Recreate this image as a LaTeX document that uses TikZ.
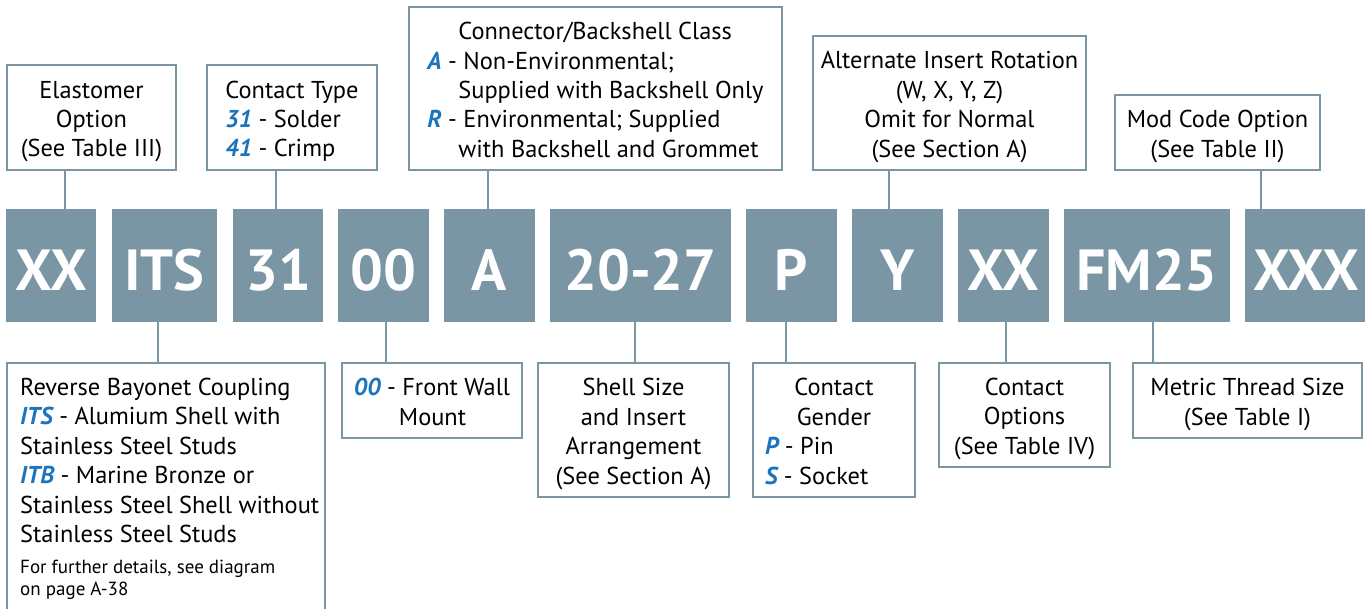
\documentclass[tikz,border=0pt]{standalone}
\usepackage{fontspec}
\setmainfont{PT Sans}
\definecolor{steel}{HTML}{7A95A3}
\definecolor{codeblue}{HTML}{1C75BC}
\newcommand{\bl}[1]{{\color{codeblue}\bfseries\itshape #1}}
\newcommand{\bodyfont}{\fontsize{24.4}{29.4}\selectfont}
\newcommand{\smallfnt}{\fontsize{19}{22}\selectfont}
\newcommand{\codefont}{\fontsize{58}{60}\selectfont\bfseries}
\newcommand{\sa}{\rule{0pt}{26pt}}
\newcommand{\sz}{\rule[-6.2pt]{0pt}{6.2pt}}
\begin{document}
\begin{tikzpicture}[x=1pt,y=-1pt,
  tbox/.style={draw=steel, line width=2.7pt, fill=white, inner sep=0pt, font=\bodyfont, align=center},
  code/.style={fill=steel, draw=none, inner sep=0pt, minimum height=113pt, text height=49pt, text depth=0pt, font=\codefont, text=white},
  conn/.style={draw=steel, line width=2.7pt},
  txt/.style={inner sep=0pt, anchor=north west, align=left}]
\useasboundingbox (0,0) rectangle (1365,608);
\clip (0,0) rectangle (1365,608);
% code boxes
\node[code, minimum width=90pt]  (xx1)  at (51,265.5)    {XX};
\node[code, minimum width=105pt] (its)  at (164.5,265.5) {ITS};
\node[code, minimum width=90pt]  (c31)  at (278,265.5)   {31};
\node[code, minimum width=91pt]  (c00)  at (383.5,265.5) {00};
\node[code, minimum width=91pt]  (ca)   at (489.5,265.5) {A};
\node[code, minimum width=181pt] (size) at (640.5,265.5) {20-27};
\node[code, minimum width=91pt]  (cp)   at (791.5,265.5) {P};
\node[code, minimum width=91pt]  (cy)   at (897.5,265.5) {Y};
\node[code, minimum width=91pt]  (xx2)  at (1003.5,265.5){XX};
\node[code, minimum width=166pt] (fm)   at (1147,265.5)  {FM25};
\node[code, minimum width=122pt] (xxx)  at (1306,265.5)  {XXX};
% top boxes
\node[tbox, minimum width=169pt, minimum height=105pt] (elast) at (91.5,117.5)
  {\sa Elastomer\\Option\\(See Table III)\sz};
\node[tbox, align=left, minimum width=170pt, minimum height=105pt] (ctype) at (292,117.5)
  {\sa Contact Type\\\bl{31} - Solder\\\bl{41} - Crimp\sz};
\node[tbox, align=left, minimum width=373pt, minimum height=163pt] (class) at (595.5,88.5)
  {\sa\hspace*{31pt}Connector/Backshell Class\\\bl{A} - Non-Environmental;\\\hspace*{31pt}Supplied with Backshell Only\\\bl{R} - Environmental; Supplied\\\hspace*{31pt}with Backshell and Grommet\sz};
\node[tbox, minimum width=273pt, minimum height=134pt] (rot) at (949.5,103)
  {\sa Alternate Insert Rotation\\(W, X, Y, Z)\\Omit for Normal\\(See Section A)\sz};
\node[tbox, minimum width=205pt, minimum height=75pt] (mod) at (1217.5,132.5)
  {\sa Mod Code Option\\(See Table II)\sz};
% bottom boxes
\node[tbox, minimum width=318pt, minimum height=256pt] (rev) at (166,491) {};
\node[txt, font=\bodyfont] (revtxt) at (20,378)
  {Reverse Bayonet Coupling\\\bl{ITS} - Alumium Shell with\\Stainless Steel Studs\\\bl{ITB} - Marine Bronze or\\Stainless Steel Shell without\\Stainless Steel Studs};
\node[txt, font=\smallfnt] (revnote) at (20,560)
  {For further details, see diagram\\on page A-38};
\node[tbox, align=left, minimum width=180pt, minimum height=75pt] (front) at (432,400.5)
  {\sa\bl{00} - Front Wall\\\hspace*{45pt}Mount\sz};
\node[tbox, minimum width=191pt, minimum height=134pt] (shell) at (633.5,430)
  {\sa Shell Size\\and Insert\\Arrangement\\(See Section A)\sz};
\node[tbox, minimum width=162pt, minimum height=134pt] (gender) at (834,430)
  {\sa Contact\\Gender\\\makebox[138pt][l]{\bl{P} - Pin}\\\makebox[138pt][l]{\bl{S} - Socket}\sz};
\node[tbox, minimum width=171pt, minimum height=104pt] (copt) at (1024.5,415)
  {\sa Contact\\Options\\(See Table IV)\sz};
\node[tbox, minimum width=229pt, minimum height=75pt] (metric) at (1247.5,400.5)
  {\sa Metric Thread Size\\(See Table I)\sz};
% connector x positions
\coordinate (k1) at (65,0);
\coordinate (k2) at (276,0);
\coordinate (k3) at (488,0);
\coordinate (k4) at (889,0);
\coordinate (k5) at (1261,0);
\coordinate (k6) at (158,0);
\coordinate (k7) at (386,0);
\coordinate (k8) at (635,0);
\coordinate (k9) at (786,0);
\coordinate (k10) at (1006,0);
\coordinate (k11) at (1153,0);
\draw[conn] (elast.south -| k1) -- (xx1.north -| k1);
\draw[conn] (ctype.south -| k2) -- (c31.north -| k2);
\draw[conn] (class.south -| k3) -- (ca.north -| k3);
\draw[conn] (rot.south -| k4) -- (cy.north -| k4);
\draw[conn] (mod.south -| k5) -- (xxx.north -| k5);
\draw[conn] (its.south -| k6) -- (rev.north -| k6);
\draw[conn] (c00.south -| k7) -- (front.north -| k7);
\draw[conn] (size.south -| k8) -- (shell.north -| k8);
\draw[conn] (cp.south -| k9) -- (gender.north -| k9);
\draw[conn] (xx2.south -| k10) -- (copt.north -| k10);
\draw[conn] (fm.south -| k11) -- (metric.north -| k11);
\end{tikzpicture}
\end{document}
